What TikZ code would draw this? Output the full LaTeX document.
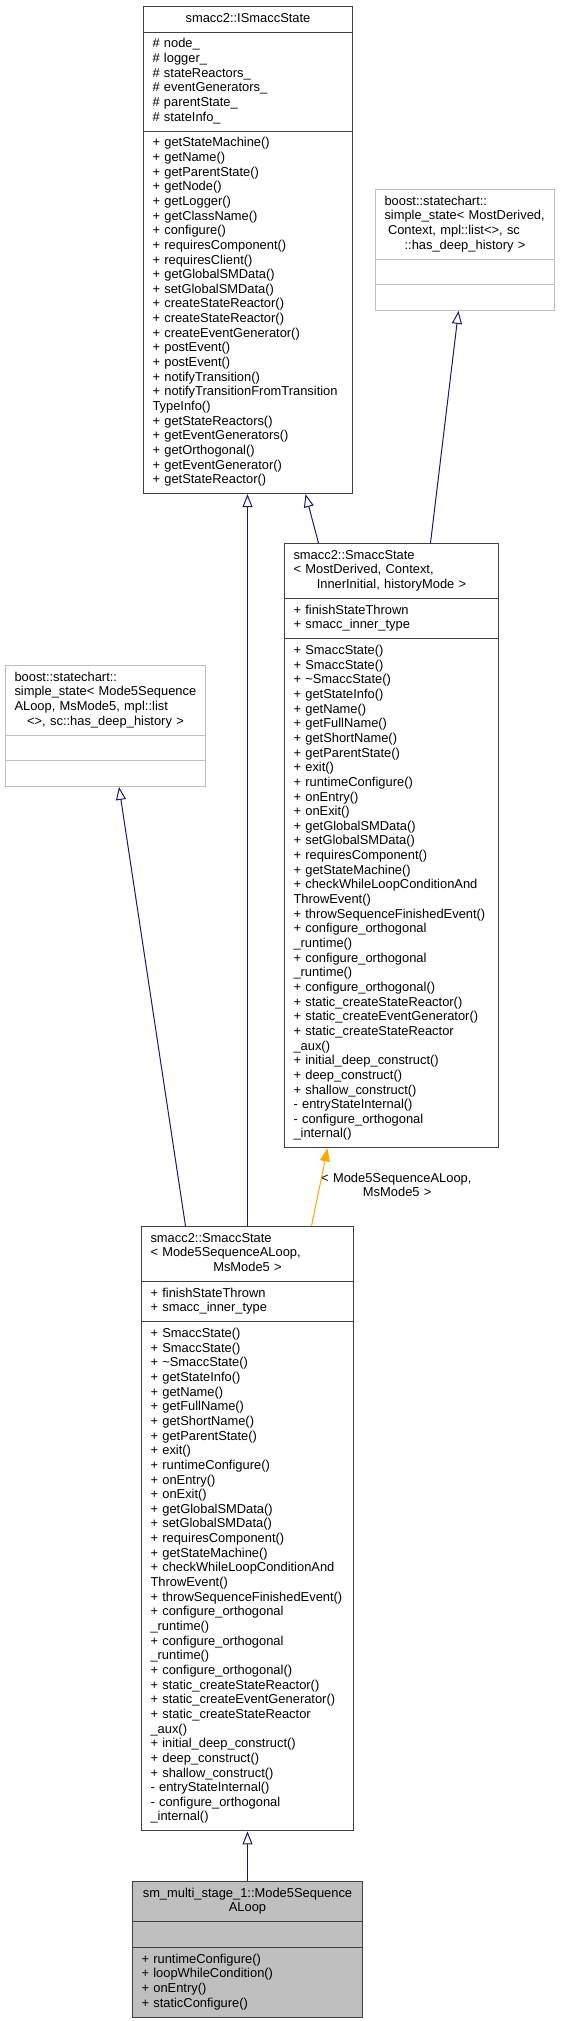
\documentclass[tikz,border=0pt]{standalone}
\usepackage{fontspec}
\setmainfont{Liberation Sans}
\usepackage{xcolor}
\usetikzlibrary{shapes.multipart, arrows.meta, positioning, calc}

\definecolor{edgeblue}{HTML}{191970}
\definecolor{edgeorange}{HTML}{FFA500}
\definecolor{boxline}{HTML}{404040}
\definecolor{extline}{HTML}{BFBFBF}
\definecolor{selfill}{HTML}{BFBFBF}

% members shared by both SmaccState boxes
\newcommand{\smaccattrs}{\strut + finishStateThrown\\+ smacc\_inner\_type\strut}
\newcommand{\smaccmethods}{\strut + SmaccState()\\+ SmaccState()\\+ \textasciitilde SmaccState()\\+ getStateInfo()\\+ getName()\\+ getFullName()\\+ getShortName()\\+ getParentState()\\+ exit()\\+ runtimeConfigure()\\+ onEntry()\\+ onExit()\\+ getGlobalSMData()\\+ setGlobalSMData()\\+ requiresComponent()\\+ getStateMachine()\\+ checkWhileLoopConditionAnd\\ThrowEvent()\\+ throwSequenceFinishedEvent()\\+ configure\_orthogonal\\\_runtime()\\+ configure\_orthogonal\\\_runtime()\\+ configure\_orthogonal()\\+ static\_createStateReactor()\\+ static\_createEventGenerator()\\+ static\_createStateReactor\\\_aux()\\+ initial\_deep\_construct()\\+ deep\_construct()\\+ shallow\_construct()\\- entryStateInternal()\\- configure\_orthogonal\\\_internal()\strut}
\newcommand{\centreline}[1]{\makebox[\linewidth]{#1\strut}}

\begin{document}
\begin{tikzpicture}[
  x=1pt, y=-1pt,
  font=\fontsize{12.9}{14.65}\selectfont,
  cls/.style={rectangle split, rectangle split parts=3, draw=boxline, line width=1pt,
    fill=white, inner xsep=9pt, inner ysep=5pt, align=left, anchor=north west},
  ext/.style={cls, draw=extline},
  self/.style={cls, fill=selfill},
  lbl/.style={inner sep=0pt, anchor=west, text width=152pt, align=left},
  inherit/.style={draw=edgeblue, line width=1pt, -{Triangle[open, length=13pt, width=10pt]}},
  tmpl/.style={draw=edgeorange, line width=1pt, -{Triangle[length=13pt, width=10pt, fill=edgeorange]}},
]
\useasboundingbox (0,0) rectangle (565,2021);

\node[cls, text width=191pt] (ismacc) at (143,6)
  {\centreline{smacc2::ISmaccState}
   \nodepart{two}\strut\#~node\_\\\#~logger\_\\\#~stateReactors\_\\\#~eventGenerators\_\\\#~parentState\_\\\#~stateInfo\_\strut
   \nodepart{three}\strut + getStateMachine()\\+ getName()\\+ getParentState()\\+ getNode()\\+ getLogger()\\+ getClassName()\\+ configure()\\+ requiresComponent()\\+ requiresClient()\\+ getGlobalSMData()\\+ setGlobalSMData()\\+ createStateReactor()\\+ createStateReactor()\\+ createEventGenerator()\\+ postEvent()\\+ postEvent()\\+ notifyTransition()\\+ notifyTransitionFromTransition\\TypeInfo()\\+ getStateReactors()\\+ getEventGenerators()\\+ getOrthogonal()\\+ getEventGenerator()\\+ getStateReactor()\strut};

\node[ext, text width=161pt] (boostgen) at (375,189)
  {\strut boost::statechart::\\simple\_state< MostDerived,\\\hspace*{3.5pt}Context, mpl::list<>, sc\\\centreline{::has\_deep\_history >}
   \nodepart{two}\strut
   \nodepart{three}\strut};

\node[cls, text width=196pt] (smaccgen) at (284,543)
  {\strut smacc2::SmaccState\\< MostDerived, Context,\\\centreline{InnerInitial, historyMode >}
   \nodepart{two}\smaccattrs
   \nodepart{three}\smaccmethods};

\node[ext, text width=182pt] (boostmode) at (5,665)
  {\strut boost::statechart::\\simple\_state< Mode5Sequence\\ALoop, MsMode5, mpl::list\\\centreline{<>, sc::has\_deep\_history >}
   \nodepart{two}\strut
   \nodepart{three}\strut};

\node[cls, text width=194pt] (smaccmode) at (141,1226)
  {\strut smacc2::SmaccState\\< Mode5SequenceALoop,\\\centreline{MsMode5 >}
   \nodepart{two}\smaccattrs
   \nodepart{three}\smaccmethods};

\node[self, text width=212pt] (loop) at (132,1881)
  {\centreline{sm\_multi\_stage\_1::Mode5Sequence}\\\centreline{ALoop}
   \nodepart{two}\strut
   \nodepart{three}\strut + runtimeConfigure()\\+ loopWhileCondition()\\+ onEntry()\\+ staticConfigure()\strut};

\node[lbl] (tplabel) at (321,1187) {<~Mode5SequenceALoop,\\\centreline{MsMode5 >}};

\draw[inherit] ([xshift=-73pt]smaccgen.north) -- ([xshift=57.5pt]ismacc.south);
\draw[inherit] ([xshift=39pt]smaccgen.north) -- ([xshift=-6.5pt]boostgen.south);
\draw[inherit] (smaccmode.north) -- (smaccmode.north |- ismacc.south);
\draw[tmpl] ([xshift=64pt]smaccmode.north) -- ([xshift=-64pt]smaccgen.south);
\draw[inherit] ([xshift=-62pt]smaccmode.north) -- ([xshift=13.5pt]boostmode.south);
\draw[inherit] (loop.north) -- (smaccmode.south);

\end{tikzpicture}
\end{document}
